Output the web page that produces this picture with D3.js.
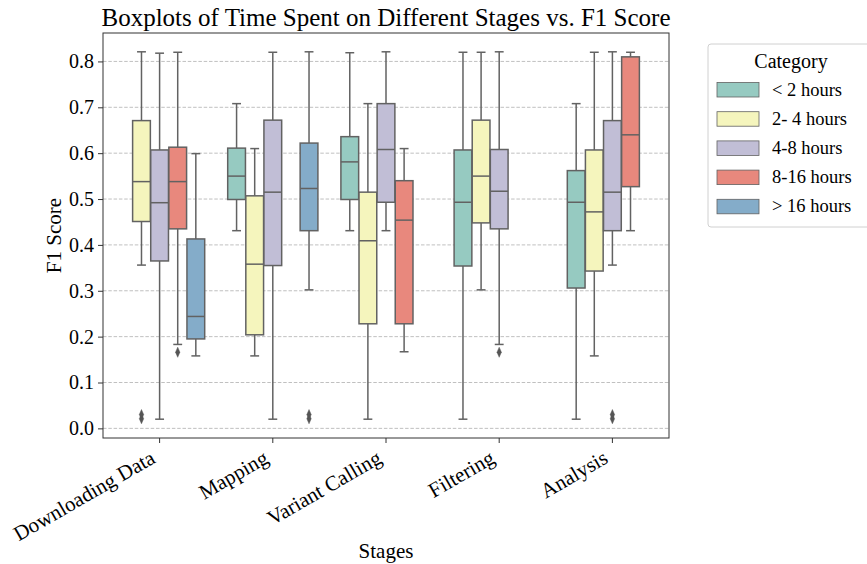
<!DOCTYPE html>
<html>
<head>
<meta charset="utf-8">
<script src="https://cdn.jsdelivr.net/npm/d3@7"></script>
<style>
  html, body { margin: 0; padding: 0; background: #fff; }
  svg { display: block; font-family: "Liberation Serif", "DejaVu Serif", serif; }
</style>
</head>
<body>
<svg id="chart" width="867" height="564"></svg>
<script>
const stages = ["Downloading Data", "Mapping", "Variant Calling", "Filtering", "Analysis"];
const categories = ["< 2 hours", "2- 4 hours", "4-8 hours", "8-16 hours", "> 16 hours"];
const colors = ["#96cac1", "#f5f5bd", "#c1bed6", "#e8887d", "#84acc9"];
const yTicks = [0.0, 0.1, 0.2, 0.3, 0.4, 0.5, 0.6, 0.7, 0.8];

// rows = stages, columns = categories (null = no data)
const whiskerLow = [
  [null, 0.356, 0.020, 0.183, 0.158],
  [0.431, 0.158, 0.020, null, 0.302],
  [0.431, 0.020, 0.431, 0.167, null],
  [0.020, 0.302, 0.183, null, null],
  [0.020, 0.158, 0.356, 0.431, null]
];
const q1 = [
  [null, 0.451, 0.365, 0.435, 0.195],
  [0.499, 0.204, 0.355, null, 0.431],
  [0.499, 0.228, 0.493, 0.228, null],
  [0.354, 0.448, 0.435, null, null],
  [0.306, 0.343, 0.431, 0.527, null]
];
const median = [
  [null, 0.538, 0.492, 0.538, 0.244],
  [0.550, 0.358, 0.515, null, 0.523],
  [0.581, 0.409, 0.608, 0.454, null],
  [0.493, 0.550, 0.517, null, null],
  [0.493, 0.472, 0.515, 0.640, null]
];
const q3 = [
  [null, 0.671, 0.607, 0.613, 0.413],
  [0.611, 0.507, 0.672, null, 0.622],
  [0.636, 0.515, 0.708, 0.540, null],
  [0.607, 0.672, 0.608, null, null],
  [0.562, 0.607, 0.671, 0.810, null]
];
const whiskerHigh = [
  [null, 0.821, 0.818, 0.820, 0.599],
  [0.708, 0.610, 0.820, null, 0.821],
  [0.819, 0.708, 0.821, 0.610, null],
  [0.820, 0.820, 0.821, null, null],
  [0.708, 0.820, 0.821, 0.820, null]
];
const outlierStage = [0, 0, 0, 1, 1, 3, 4, 4];
const outlierCat   = [1, 1, 3, 4, 4, 2, 2, 2];
const outlierValue = [0.021, 0.030, 0.166, 0.021, 0.030, 0.166, 0.021, 0.030];

const svg = d3.select("#chart");
const L = 103, R = 669, T = 33, B = 438;
const lineColor = "#626262";

const x = d3.scaleBand().domain(stages).range([L, R]).padding(0);
const bw = x.bandwidth();
const xi = d3.scaleBand().domain(categories).range([bw * 0.1, bw * 0.9]).padding(0);
const boxW = xi.bandwidth() * 0.98;
const y = d3.scaleLinear().domain([-0.021, 0.862]).range([B, T]);

// grid
svg.append("g").selectAll("line").data(yTicks).join("line")
  .attr("x1", L).attr("x2", R)
  .attr("y1", d => y(d)).attr("y2", d => y(d))
  .attr("stroke", "#b0b0b0").attr("stroke-width", 0.8)
  .attr("stroke-dasharray", "3.5,1.8");

// boxes
const boxes = [];
stages.forEach((s, i) => categories.forEach((c, j) => {
  if (median[i][j] === null) return;
  boxes.push({ s, c, j, lo: whiskerLow[i][j], q1: q1[i][j], med: median[i][j], q3: q3[i][j], hi: whiskerHigh[i][j] });
}));

const g = svg.append("g");
boxes.forEach(b => {
  const cx = x(b.s) + xi(b.c) + xi.bandwidth() / 2;
  const gg = g.append("g");
  gg.append("line").attr("x1", cx).attr("x2", cx).attr("y1", y(b.q3)).attr("y2", y(b.hi))
    .attr("stroke", lineColor).attr("stroke-width", 1.5);
  gg.append("line").attr("x1", cx).attr("x2", cx).attr("y1", y(b.q1)).attr("y2", y(b.lo))
    .attr("stroke", lineColor).attr("stroke-width", 1.5);
  [b.hi, b.lo].forEach(v => {
    gg.append("line").attr("x1", cx - boxW / 4).attr("x2", cx + boxW / 4)
      .attr("y1", y(v)).attr("y2", y(v)).attr("stroke", lineColor).attr("stroke-width", 1.5);
  });
  gg.append("rect").attr("x", cx - boxW / 2).attr("width", boxW)
    .attr("y", y(b.q3)).attr("height", y(b.q1) - y(b.q3))
    .attr("fill", colors[b.j]).attr("stroke", lineColor).attr("stroke-width", 1.5);
  gg.append("line").attr("x1", cx - boxW / 2).attr("x2", cx + boxW / 2)
    .attr("y1", y(b.med)).attr("y2", y(b.med)).attr("stroke", lineColor).attr("stroke-width", 1.5);
});

// outliers (diamonds)
const diamond = d3.symbol().type(d3.symbolDiamond).size(30);
outlierValue.forEach((v, k) => {
  const s = stages[outlierStage[k]], c = categories[outlierCat[k]];
  const cx = x(s) + xi(c) + xi.bandwidth() / 2;
  g.append("path").attr("d", diamond)
    .attr("transform", `translate(${cx},${y(v)}) scale(0.75,1)`)
    .attr("fill", "#555").attr("stroke", "#555").attr("stroke-width", 0.5);
});

// frame
svg.append("rect").attr("x", L).attr("y", T).attr("width", R - L).attr("height", B - T)
  .attr("fill", "none").attr("stroke", "#333").attr("stroke-width", 1);

// axes
const yAxis = d3.axisLeft(y).tickValues(yTicks).tickFormat(d3.format(".1f")).tickSize(5).tickPadding(4);
const ya = svg.append("g").attr("transform", `translate(${L},0)`).call(yAxis);
ya.select(".domain").remove();
ya.selectAll("line").attr("stroke", "#333");
ya.selectAll("text").attr("font-size", 20).attr("fill", "#000").attr("font-family", "Liberation Serif");

const xAxis = d3.axisBottom(x).tickSize(5).tickPadding(4);
const xa = svg.append("g").attr("transform", `translate(0,${B})`).call(xAxis);
xa.select(".domain").remove();
xa.selectAll("line").attr("stroke", "#333");
xa.selectAll("text").attr("font-size", 21).attr("fill", "#000").attr("font-family", "Liberation Serif")
  .attr("text-anchor", "end").attr("x", 0).attr("y", 0).attr("dy", 0)
  .attr("transform", "translate(-3,24) rotate(-30)");

// title & labels
svg.append("text").attr("x", (L + R) / 2).attr("y", 26).attr("text-anchor", "middle")
  .attr("font-size", 25).text("Boxplots of Time Spent on Different Stages vs. F1 Score");
svg.append("text").attr("x", (L + R) / 2).attr("y", 558).attr("text-anchor", "middle")
  .attr("font-size", 21).text("Stages");
svg.append("text").attr("transform", `translate(61,${(T + B) / 2}) rotate(-90)`)
  .attr("text-anchor", "middle").attr("font-size", 21).text("F1 Score");

// legend
const lg = svg.append("g");
lg.append("rect").attr("x", 708).attr("y", 44).attr("width", 170).attr("height", 183)
  .attr("rx", 3).attr("fill", "#fff").attr("stroke", "#d0d0d0").attr("stroke-width", 1);
lg.append("text").attr("x", 791).attr("y", 68).attr("text-anchor", "middle")
  .attr("font-size", 20).text("Category");
categories.forEach((c, j) => {
  const cy = 89.5 + j * 29.2;
  lg.append("rect").attr("x", 717).attr("y", cy - 7).attr("width", 42).attr("height", 14.5)
    .attr("fill", colors[j]).attr("stroke", lineColor).attr("stroke-width", 0.8);
  lg.append("text").attr("x", 772).attr("y", cy + 6).attr("font-size", 18.5).text(c);
});
</script>
</body>
</html>
